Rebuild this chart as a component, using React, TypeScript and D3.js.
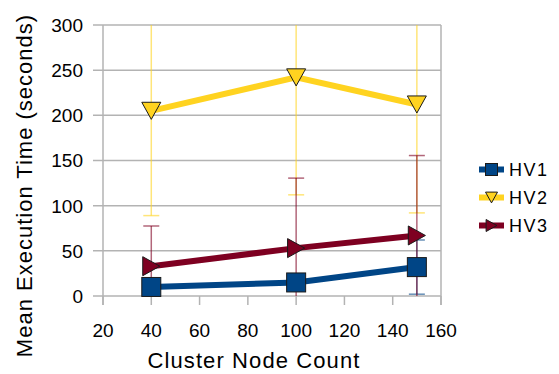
import React from "react";
import * as d3 from "d3";

const xValues = [40, 100, 150];
const seriesNames = ["HV1", "HV2", "HV3"];
const hv1 = [10, 15, 32];
const hv2 = [205, 242, 212];
const hv3 = [33, 53, 67];
const hv1Err = [5, 8, 30];
const hv2Err = [116, 130, 120];
const hv3Err = [44.5, 77.5, 88.5];
const xTicks = [20, 40, 60, 80, 100, 120, 140, 160];
const yTicks = [0, 50, 100, 150, 200, 250, 300];
const colors = ["#004586", "#ffd320", "#7e0021"];
const markers = ["square", "triangleDown", "triangleRight"];

const W = 559, H = 374;
const L = 103, R = 441, T = 25, B = 296;
const FONT = "'Liberation Sans', Arial, sans-serif";

function Marker({ type, cx, cy, size, fill }: any) {
  const s = size / 2;
  if (type === "square") {
    return <rect x={cx - s} y={cy - s} width={size} height={size} fill={fill} stroke="#1a1a1a" strokeWidth={1} />;
  }
  if (type === "triangleDown") {
    const h = size * 0.9;
    return <path d={`M${cx - s},${cy - h / 2}L${cx + s},${cy - h / 2}L${cx},${cy + h / 2}Z`} fill={fill} stroke="#1a1a1a" strokeWidth={1} />;
  }
  const w = size * 0.9;
  return <path d={`M${cx - w / 2},${cy - s}L${cx + w / 2},${cy}L${cx - w / 2},${cy + s}Z`} fill={fill} stroke="#1a1a1a" strokeWidth={1} />;
}

export default function App() {
  const x = d3.scaleLinear().domain([20, 160]).range([L, R]);
  const y = d3.scaleLinear().domain([0, 300]).range([B, T]);
  const series = [hv1, hv2, hv3];
  const errs = [hv1Err, hv2Err, hv3Err];
  const line = d3.line<number>().x((_, i) => x(xValues[i])).y((d) => y(d));
  const clampY = (v: number) => y(Math.max(0, Math.min(300, v)));

  return (
    <svg width={W} height={H} style={{ position: "absolute", left: 0, top: 0 }} fontFamily={FONT}>
      <rect width={W} height={H} fill="#fff" />
      {yTicks.map((t) => (
        <line key={"g" + t} x1={L - 10} x2={R} y1={y(t)} y2={y(t)} stroke="#b3b3b3" strokeWidth={1.5} />
      ))}
      <line x1={L} x2={L} y1={T} y2={B + 9} stroke="#b3b3b3" strokeWidth={1.5} />
      <line x1={R} x2={R} y1={T} y2={B + 9} stroke="#b3b3b3" strokeWidth={1.5} />
      {xTicks.map((t) => (
        <line key={"xt" + t} x1={x(t)} x2={x(t)} y1={B} y2={B + 9} stroke="#b3b3b3" strokeWidth={1.5} />
      ))}
      {yTicks.map((t) => (
        <text key={"yl" + t} x={83} y={y(t)} dy="0.36em" textAnchor="end" fontSize={19} fill="#000">{t}</text>
      ))}
      {xTicks.map((t) => (
        <text key={"xl" + t} x={x(t)} y={337} textAnchor="middle" fontSize={19} fill="#000">{t}</text>
      ))}
      <text x={254} y={368} textAnchor="middle" fontSize={22} letterSpacing={1.1} fill="#000">Cluster Node Count</text>
      <text transform={`translate(32,185.5) rotate(-90)`} textAnchor="middle" fontSize={22} letterSpacing={1} fill="#000">Mean Execution Time (seconds)</text>
      {series.map((s, si) =>
        s.map((v, i) => {
          const cx = x(xValues[i]);
          const top = v + errs[si][i];
          const bot = v - errs[si][i];
          return (
            <g key={`e${si}-${i}`} stroke={colors[si]} strokeOpacity={0.6} strokeWidth={1.5}>
              <line x1={cx} x2={cx} y1={clampY(top)} y2={clampY(bot)} />
              {top <= 300 && <line x1={cx - 8} x2={cx + 8} y1={y(top)} y2={y(top)} />}
              {bot >= 0 && <line x1={cx - 8} x2={cx + 8} y1={y(bot)} y2={y(bot)} />}
            </g>
          );
        })
      )}
      {series.map((s, si) => (
        <path key={"l" + si} d={line(s) || ""} fill="none" stroke={colors[si]} strokeWidth={6} />
      ))}
      {series.map((s, si) =>
        s.map((v, i) => (
          <Marker key={`m${si}-${i}`} type={markers[si]} cx={x(xValues[i])} cy={y(v)} size={19} fill={colors[si]} />
        ))
      )}
      {seriesNames.map((n, i) => {
        const ly = 169.5 + i * 28;
        return (
          <g key={"lg" + i}>
            <line x1={479} x2={504} y1={ly} y2={ly} stroke={colors[i]} strokeWidth={6} />
            <Marker type={markers[i]} cx={491.5} cy={ly} size={12} fill={colors[i]} />
            <text x={509} y={ly} dy="0.36em" fontSize={18} fill="#000" letterSpacing={1.5}>{n}</text>
          </g>
        );
      })}
    </svg>
  );
}
